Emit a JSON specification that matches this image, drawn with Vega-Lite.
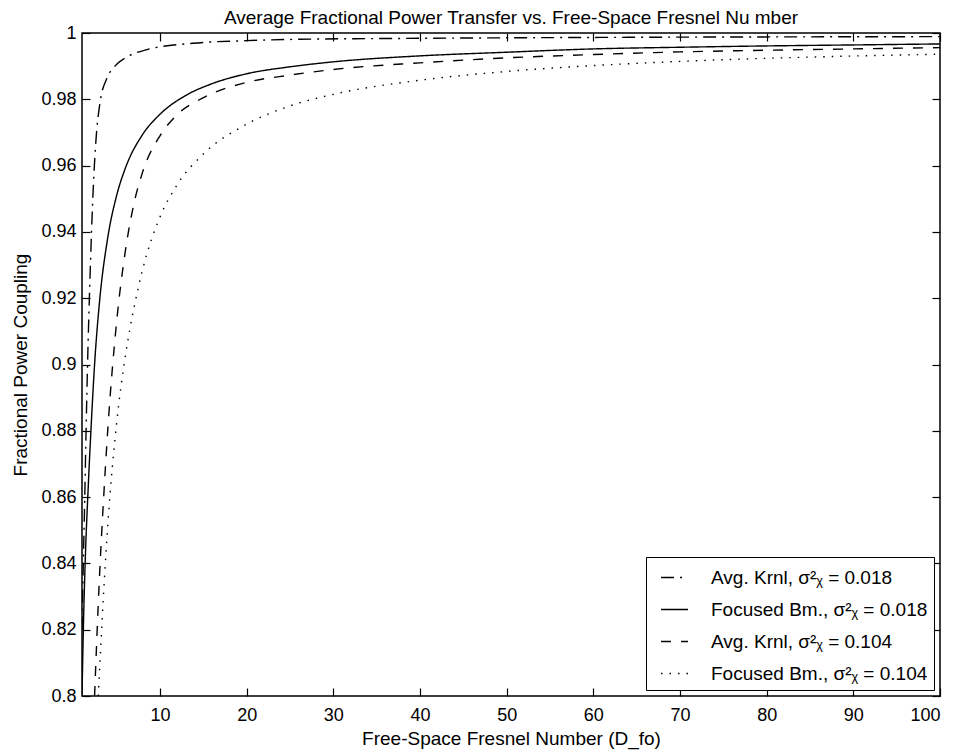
{
  "$schema": "https://vega.github.io/schema/vega-lite/v6.json",
  "width": 858,
  "height": 663,
  "autosize": {"type": "none"},
  "padding": {"left": 82, "top": 33, "right": 15, "bottom": 54},
  "background": "white",
  "title": {"text": "Average Fractional Power Transfer vs. Free-Space Fresnel Nu mber", "fontSize": 19, "fontWeight": "normal", "font": "Liberation Sans", "color": "black", "offset": -4, "anchor": "middle"},
  "config": {
    "view": {"stroke": "black", "strokeWidth": 1.5},
    "font": "Liberation Sans",
    "axis": {"grid": false, "domain": false, "tickColor": "black", "tickSize": -8, "tickWidth": 1.2, "labelColor": "black", "labelFontSize": 18, "labelFont": "Liberation Sans", "titleFont": "Liberation Sans", "titleFontSize": 19, "titleFontWeight": "normal", "titleColor": "black"}
  },
  "data": {"values": [
    {"s": "Avg. Krnl, σ²ᵪ = 0.018", "x": 1.0, "y": 0.82},
    {"s": "Avg. Krnl, σ²ᵪ = 0.018", "x": 1.15, "y": 0.84},
    {"s": "Avg. Krnl, σ²ᵪ = 0.018", "x": 1.32, "y": 0.86},
    {"s": "Avg. Krnl, σ²ᵪ = 0.018", "x": 1.47, "y": 0.88},
    {"s": "Avg. Krnl, σ²ᵪ = 0.018", "x": 1.64, "y": 0.90},
    {"s": "Avg. Krnl, σ²ᵪ = 0.018", "x": 1.85, "y": 0.92},
    {"s": "Avg. Krnl, σ²ᵪ = 0.018", "x": 2.1, "y": 0.94},
    {"s": "Avg. Krnl, σ²ᵪ = 0.018", "x": 2.33, "y": 0.955},
    {"s": "Avg. Krnl, σ²ᵪ = 0.018", "x": 2.62, "y": 0.968},
    {"s": "Avg. Krnl, σ²ᵪ = 0.018", "x": 3.08, "y": 0.979},
    {"s": "Avg. Krnl, σ²ᵪ = 0.018", "x": 3.9, "y": 0.9865},
    {"s": "Avg. Krnl, σ²ᵪ = 0.018", "x": 4.8, "y": 0.99},
    {"s": "Avg. Krnl, σ²ᵪ = 0.018", "x": 6.2, "y": 0.9928},
    {"s": "Avg. Krnl, σ²ᵪ = 0.018", "x": 8.5, "y": 0.995},
    {"s": "Avg. Krnl, σ²ᵪ = 0.018", "x": 13.8, "y": 0.9969},
    {"s": "Avg. Krnl, σ²ᵪ = 0.018", "x": 20, "y": 0.9977},
    {"s": "Avg. Krnl, σ²ᵪ = 0.018", "x": 26, "y": 0.9981},
    {"s": "Avg. Krnl, σ²ᵪ = 0.018", "x": 40, "y": 0.9984},
    {"s": "Avg. Krnl, σ²ᵪ = 0.018", "x": 64, "y": 0.9987},
    {"s": "Avg. Krnl, σ²ᵪ = 0.018", "x": 100, "y": 0.9989},

    {"s": "Focused Bm., σ²ᵪ = 0.018", "x": 1.0, "y": 0.80},
    {"s": "Focused Bm., σ²ᵪ = 0.018", "x": 1.2, "y": 0.825},
    {"s": "Focused Bm., σ²ᵪ = 0.018", "x": 1.4, "y": 0.843},
    {"s": "Focused Bm., σ²ᵪ = 0.018", "x": 1.7, "y": 0.862},
    {"s": "Focused Bm., σ²ᵪ = 0.018", "x": 2.0, "y": 0.8785},
    {"s": "Focused Bm., σ²ᵪ = 0.018", "x": 2.5, "y": 0.902},
    {"s": "Focused Bm., σ²ᵪ = 0.018", "x": 3, "y": 0.9183},
    {"s": "Focused Bm., σ²ᵪ = 0.018", "x": 4, "y": 0.9387},
    {"s": "Focused Bm., σ²ᵪ = 0.018", "x": 5, "y": 0.951},
    {"s": "Focused Bm., σ²ᵪ = 0.018", "x": 6, "y": 0.9592},
    {"s": "Focused Bm., σ²ᵪ = 0.018", "x": 8, "y": 0.9694},
    {"s": "Focused Bm., σ²ᵪ = 0.018", "x": 10, "y": 0.9755},
    {"s": "Focused Bm., σ²ᵪ = 0.018", "x": 13, "y": 0.9812},
    {"s": "Focused Bm., σ²ᵪ = 0.018", "x": 16, "y": 0.9847},
    {"s": "Focused Bm., σ²ᵪ = 0.018", "x": 20, "y": 0.9877},
    {"s": "Focused Bm., σ²ᵪ = 0.018", "x": 25, "y": 0.9898},
    {"s": "Focused Bm., σ²ᵪ = 0.018", "x": 30, "y": 0.9913},
    {"s": "Focused Bm., σ²ᵪ = 0.018", "x": 40, "y": 0.9931},
    {"s": "Focused Bm., σ²ᵪ = 0.018", "x": 50, "y": 0.9942},
    {"s": "Focused Bm., σ²ᵪ = 0.018", "x": 60, "y": 0.9952},
    {"s": "Focused Bm., σ²ᵪ = 0.018", "x": 70, "y": 0.9957},
    {"s": "Focused Bm., σ²ᵪ = 0.018", "x": 80, "y": 0.9961},
    {"s": "Focused Bm., σ²ᵪ = 0.018", "x": 90, "y": 0.9964},
    {"s": "Focused Bm., σ²ᵪ = 0.018", "x": 100, "y": 0.9967},

    {"s": "Avg. Krnl, σ²ᵪ = 0.104", "x": 2.45, "y": 0.80},
    {"s": "Avg. Krnl, σ²ᵪ = 0.104", "x": 3, "y": 0.835},
    {"s": "Avg. Krnl, σ²ᵪ = 0.104", "x": 3.5, "y": 0.86},
    {"s": "Avg. Krnl, σ²ᵪ = 0.104", "x": 4, "y": 0.8813},
    {"s": "Avg. Krnl, σ²ᵪ = 0.104", "x": 5, "y": 0.913},
    {"s": "Avg. Krnl, σ²ᵪ = 0.104", "x": 6, "y": 0.9342},
    {"s": "Avg. Krnl, σ²ᵪ = 0.104", "x": 7, "y": 0.9486},
    {"s": "Avg. Krnl, σ²ᵪ = 0.104", "x": 8, "y": 0.9581},
    {"s": "Avg. Krnl, σ²ᵪ = 0.104", "x": 10, "y": 0.969},
    {"s": "Avg. Krnl, σ²ᵪ = 0.104", "x": 12, "y": 0.9754},
    {"s": "Avg. Krnl, σ²ᵪ = 0.104", "x": 15, "y": 0.9805},
    {"s": "Avg. Krnl, σ²ᵪ = 0.104", "x": 20, "y": 0.9851},
    {"s": "Avg. Krnl, σ²ᵪ = 0.104", "x": 25, "y": 0.9873},
    {"s": "Avg. Krnl, σ²ᵪ = 0.104", "x": 30, "y": 0.989},
    {"s": "Avg. Krnl, σ²ᵪ = 0.104", "x": 40, "y": 0.991},
    {"s": "Avg. Krnl, σ²ᵪ = 0.104", "x": 50, "y": 0.9925},
    {"s": "Avg. Krnl, σ²ᵪ = 0.104", "x": 60, "y": 0.9935},
    {"s": "Avg. Krnl, σ²ᵪ = 0.104", "x": 70, "y": 0.9943},
    {"s": "Avg. Krnl, σ²ᵪ = 0.104", "x": 80, "y": 0.9948},
    {"s": "Avg. Krnl, σ²ᵪ = 0.104", "x": 90, "y": 0.9952},
    {"s": "Avg. Krnl, σ²ᵪ = 0.104", "x": 100, "y": 0.9956},

    {"s": "Focused Bm., σ²ᵪ = 0.104", "x": 2.88, "y": 0.80},
    {"s": "Focused Bm., σ²ᵪ = 0.104", "x": 3.5, "y": 0.8314},
    {"s": "Focused Bm., σ²ᵪ = 0.104", "x": 4, "y": 0.8525},
    {"s": "Focused Bm., σ²ᵪ = 0.104", "x": 5, "y": 0.8824},
    {"s": "Focused Bm., σ²ᵪ = 0.104", "x": 6, "y": 0.9025},
    {"s": "Focused Bm., σ²ᵪ = 0.104", "x": 7, "y": 0.9171},
    {"s": "Focused Bm., σ²ᵪ = 0.104", "x": 8, "y": 0.9287},
    {"s": "Focused Bm., σ²ᵪ = 0.104", "x": 10, "y": 0.9445},
    {"s": "Focused Bm., σ²ᵪ = 0.104", "x": 12, "y": 0.9543},
    {"s": "Focused Bm., σ²ᵪ = 0.104", "x": 15, "y": 0.9635},
    {"s": "Focused Bm., σ²ᵪ = 0.104", "x": 20, "y": 0.9725},
    {"s": "Focused Bm., σ²ᵪ = 0.104", "x": 25, "y": 0.978},
    {"s": "Focused Bm., σ²ᵪ = 0.104", "x": 30, "y": 0.9815},
    {"s": "Focused Bm., σ²ᵪ = 0.104", "x": 40, "y": 0.98575},
    {"s": "Focused Bm., σ²ᵪ = 0.104", "x": 50, "y": 0.9884},
    {"s": "Focused Bm., σ²ᵪ = 0.104", "x": 60, "y": 0.99017},
    {"s": "Focused Bm., σ²ᵪ = 0.104", "x": 70, "y": 0.99143},
    {"s": "Focused Bm., σ²ᵪ = 0.104", "x": 80, "y": 0.99237},
    {"s": "Focused Bm., σ²ᵪ = 0.104", "x": 90, "y": 0.99306},
    {"s": "Focused Bm., σ²ᵪ = 0.104", "x": 100, "y": 0.9936}
  ]},
  "layer": [
    {
      "mark": {"type": "line", "clip": true, "interpolate": "monotone", "color": "black", "strokeWidth": 1.4},
      "encoding": {
        "x": {"field": "x", "type": "quantitative", "scale": {"domain": [1, 100], "nice": false, "zero": false},
              "axis": {"orient": "bottom", "values": [10, 20, 30, 40, 50, 60, 70, 80, 90, 100], "labelPadding": 18, "title": "Free-Space Fresnel Number (D_fo)", "titlePadding": 5}},
        "y": {"field": "y", "type": "quantitative", "scale": {"domain": [0.8, 1], "nice": false, "zero": false},
              "axis": {"orient": "left", "values": [0.8, 0.82, 0.84, 0.86, 0.88, 0.9, 0.92, 0.94, 0.96, 0.98, 1], "format": ".2~f", "labelPadding": 14, "title": "Fractional Power Coupling", "titlePadding": 10}},
        "strokeDash": {"field": "s", "type": "nominal",
          "scale": {"domain": ["Avg. Krnl, σ²ᵪ = 0.018", "Focused Bm., σ²ᵪ = 0.018", "Avg. Krnl, σ²ᵪ = 0.104", "Focused Bm., σ²ᵪ = 0.104"],
                    "range": [[13, 6, 2, 6], [1, 0], [10, 10], [1.5, 7]]},
          "legend": {"title": null, "orient": "bottom-right", "offset": 6, "padding": 6, "strokeColor": "black", "fillColor": "white",
                     "symbolType": "stroke", "symbolStrokeColor": "black", "symbolStrokeWidth": 1.4, "symbolSize": 729, "symbolOffset": 8,
                     "labelFontSize": 19, "labelFont": "Liberation Sans", "labelColor": "black", "labelLimit": 400, "rowPadding": 7, "labelOffset": 22}}
      }
    },
    {
      "mark": {"type": "point", "opacity": 0},
      "encoding": {
        "x": {"field": "x", "type": "quantitative", "axis": {"orient": "top", "values": [10, 20, 30, 40, 50, 60, 70, 80, 90, 100], "labels": false, "title": null}},
        "y": {"field": "y", "type": "quantitative", "axis": {"orient": "right", "values": [0.8, 0.82, 0.84, 0.86, 0.88, 0.9, 0.92, 0.94, 0.96, 0.98, 1], "labels": false, "title": null}}
      }
    }
  ],
  "resolve": {"axis": {"x": "independent", "y": "independent"}}
}
